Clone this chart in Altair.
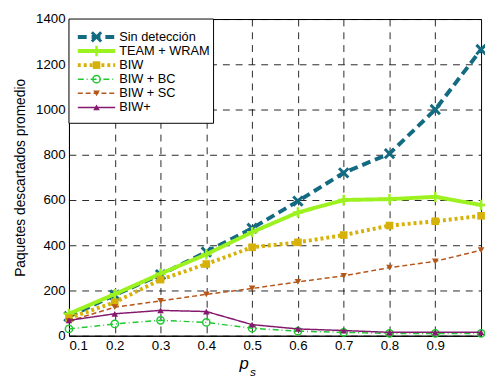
import altair as alt
import pandas as pd

ps = [0.1, 0.2, 0.3, 0.4, 0.5, 0.6, 0.7, 0.8, 0.9, 1.0]
series = ["Sin detección", "TEAM + WRAM", "BIW", "BIW + BC", "BIW + SC", "BIW+"]
sin_det = [85, 180, 270, 370, 475, 595, 720, 805, 1000, 1265]
team_wram = [97, 184, 274, 360, 458, 545, 600, 604, 614, 578]
biw = [78, 148, 248, 317, 391, 413, 445, 487, 506, 530]
biw_bc = [30, 52, 68, 59, 33, 20, 15, 10, 10, 10]
biw_sc = [65, 126, 154, 183, 209, 238, 265, 301, 329, 378]
biw_plus = [68, 97, 112, 107, 49, 30, 23, 15, 15, 15]
values = [sin_det, team_wram, biw, biw_bc, biw_sc, biw_plus]

colors = ["#136b82", "#9cf21f", "#d6b108", "#22c832", "#b5561a", "#84196e"]
dashes = [[9, 5], [1, 0], [3, 3], [6, 3, 1, 3], [5, 3], [1, 0]]
widths = [4, 4, 4, 1.5, 1.5, 1.5]
shapes = ["M-1,-1L1,1M-1,1L1,-1", "M-1,0L1,0M0,-1L0,1", "square", "circle", "triangle-down", "triangle-up"]
filled = [False, False, True, False, True, True]
msizes = [90, 110, 60, 55, 45, 45]
mstroke = [3, 2.5, 1, 1.5, 1, 1]

rows = []
for s, vals in zip(series, values):
    for p, v in zip(ps, vals):
        rows.append({"name": s, "ps": p, "value": v})
df = pd.DataFrame(rows)
legend_df = pd.DataFrame({"name": series})

xticks = [0.1, 0.2, 0.3, 0.4, 0.5, 0.6, 0.7, 0.8, 0.9]
yticks = [0, 200, 400, 600, 800, 1000, 1200, 1400]

X = alt.X("ps:Q", scale=alt.Scale(domain=[0.1, 1.0], nice=False, zero=False),
          axis=alt.Axis(values=xticks, format=".1f", title=None))
Y = alt.Y("value:Q", scale=alt.Scale(domain=[0, 1400], nice=False),
          axis=alt.Axis(values=yticks, format="d", title="Paquetes descartados promedio"))

data_layers = []
for i, s in enumerate(series):
    sub = df[df["name"] == s]
    line = alt.Chart(sub).mark_line(
        color=colors[i], strokeWidth=widths[i], strokeDash=dashes[i]
    ).encode(x=X, y=Y)
    pt = alt.Chart(sub).mark_point(
        shape=shapes[i], filled=filled[i], size=msizes[i], color=colors[i],
        strokeWidth=mstroke[i], opacity=1
    ).encode(x=X, y=Y)
    data_layers += [line, pt]
main = alt.layer(*data_layers)

LY = alt.Y("name:N", scale=alt.Scale(domain=series, range=[11, 97], padding=0), axis=None)
box = alt.Chart(legend_df.head(1)).mark_rect(
    fill="white", stroke="black", strokeWidth=1
).encode(x=alt.value(0), x2=alt.value(147), y=alt.value(0), y2=alt.value(106))
legend_layers = [box]
for i, s in enumerate(series):
    sub = legend_df[legend_df["name"] == s]
    legend_layers.append(alt.Chart(sub).mark_rule(
        color=colors[i], strokeWidth=widths[i], strokeDash=dashes[i]
    ).encode(x=alt.value(9), x2=alt.value(47), y=LY))
    legend_layers.append(alt.Chart(sub).mark_point(
        shape=shapes[i], filled=filled[i], size=msizes[i], color=colors[i],
        strokeWidth=mstroke[i], opacity=1
    ).encode(x=alt.value(28), y=LY))
legend_layers.append(alt.Chart(legend_df).mark_text(
    align="left", baseline="middle", fontSize=13, font="Liberation Sans", color="black"
).encode(x=alt.value(51), y=LY, text="name:N"))
legend = alt.layer(*legend_layers)

one = pd.DataFrame({"t": ["p"]})
xt_p = alt.Chart(one).mark_text(
    text="p", fontSize=17, fontStyle="italic", font="Liberation Sans", baseline="alphabetic"
).encode(x=alt.value(178), y=alt.value(356))
xt_s = alt.Chart(one).mark_text(
    text="s", fontSize=12, fontStyle="italic", font="Liberation Sans", baseline="alphabetic"
).encode(x=alt.value(187), y=alt.value(363))

chart = alt.layer(main, legend, xt_p, xt_s).resolve_scale(y="independent").properties(
    width=419, height=322,
    autosize=alt.AutoSizeParams(type="none"),
    padding={"left": 62, "top": 8, "right": 4, "bottom": 55},
).configure_view(
    stroke="black", strokeWidth=1
).configure_axis(
    labelFont="Liberation Sans", labelFontSize=13.5, labelColor="black",
    titleFont="Liberation Sans", titleFontSize=14, titleColor="black", titleFontWeight="normal",
    grid=True, gridColor="black", gridDash=[7, 6], gridOpacity=0.85, gridWidth=1,
    domainColor="black", ticks=False, labelPadding=4
).configure_axisY(titlePadding=8).configure_axisX(labelPadding=3)

chart.save("out.html", embed_options={"renderer": "svg", "actions": False})
